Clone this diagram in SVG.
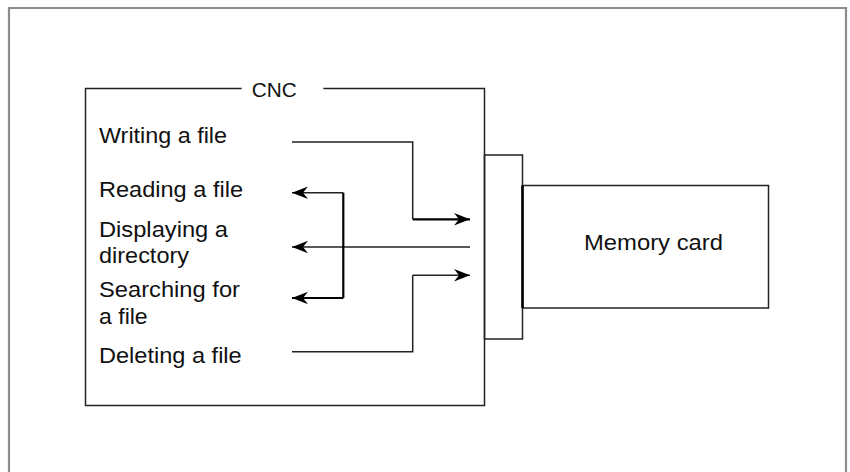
<svg xmlns="http://www.w3.org/2000/svg" width="850" height="472" viewBox="0 0 850 472">
<style>
.frame{fill:none;stroke:#8c8c8c;stroke-width:2.2}
.box{fill:none;stroke:#222;stroke-width:1.5}
.lbl{font-family:"Liberation Sans",Arial,sans-serif;font-size:22px;fill:#111}
.cnc{font-size:20px}
.conn{fill:none;stroke:#222;stroke-width:1.5}
.bold{stroke:#000;stroke-width:2.2}
</style>
<defs>
<marker id="arr" viewBox="0 0 17 14" refX="17" refY="7" markerWidth="17" markerHeight="14" markerUnits="userSpaceOnUse" orient="auto">
<path d="M17,7 L1,0.8 L6,7 L1,13.2 Z" fill="#000"/>
</marker>
</defs>
<rect width="850" height="472" fill="#fff"/>
<path class="frame" d="M9,472 V8 H846 V472"/>
<g id="cnc">
<path class="box" d="M241.7,88.5 H85.5 V405.5 H484.5 V88.5 H323.3"/>
<text class="lbl cnc" x="251.7" y="97" textLength="45" lengthAdjust="spacingAndGlyphs">CNC</text>
<text class="lbl" x="99" y="142.5" textLength="128" lengthAdjust="spacingAndGlyphs">Writing a file</text>
<text class="lbl" x="99" y="197" textLength="144" lengthAdjust="spacingAndGlyphs">Reading a file</text>
<text class="lbl" x="99" y="237" textLength="129" lengthAdjust="spacingAndGlyphs">Displaying a</text>
<text class="lbl" x="99" y="263" textLength="90" lengthAdjust="spacingAndGlyphs">directory</text>
<text class="lbl" x="99" y="297" textLength="141" lengthAdjust="spacingAndGlyphs">Searching for</text>
<text class="lbl" x="99" y="323.5" textLength="48.7" lengthAdjust="spacingAndGlyphs">a file</text>
<text class="lbl" x="99" y="363" textLength="142.7" lengthAdjust="spacingAndGlyphs">Deleting a file</text>
</g>
<g id="connector">
<rect class="box" x="484.5" y="155" width="38" height="184"/>
</g>
<g id="memory-card">
<rect class="box" x="522.5" y="185.5" width="246" height="122.5"/>
<line x1="522.5" y1="185.5" x2="522.5" y2="308" stroke="#000" stroke-width="2.5"/>
<text class="lbl" x="584" y="250" textLength="139" lengthAdjust="spacingAndGlyphs">Memory card</text>
</g>
<g id="connectors">
<path class="conn" d="M292,142 H412.7 V219.3"/>
<path class="conn bold" d="M412.7,219.3 H470" marker-end="url(#arr)"/>
<path class="conn" d="M292,351.7 H412.7 V275.3"/>
<path class="conn" d="M412.7,275.3 H470" marker-end="url(#arr)"/>
<path class="conn" d="M470,247 H292" marker-end="url(#arr)"/>
<path class="conn bold" d="M343.3,192.7 V298"/>
<path class="conn" d="M343.3,192.7 H292" marker-end="url(#arr)"/>
<path class="conn bold" d="M343.3,298 H292" marker-end="url(#arr)"/>
</g>
</svg>
